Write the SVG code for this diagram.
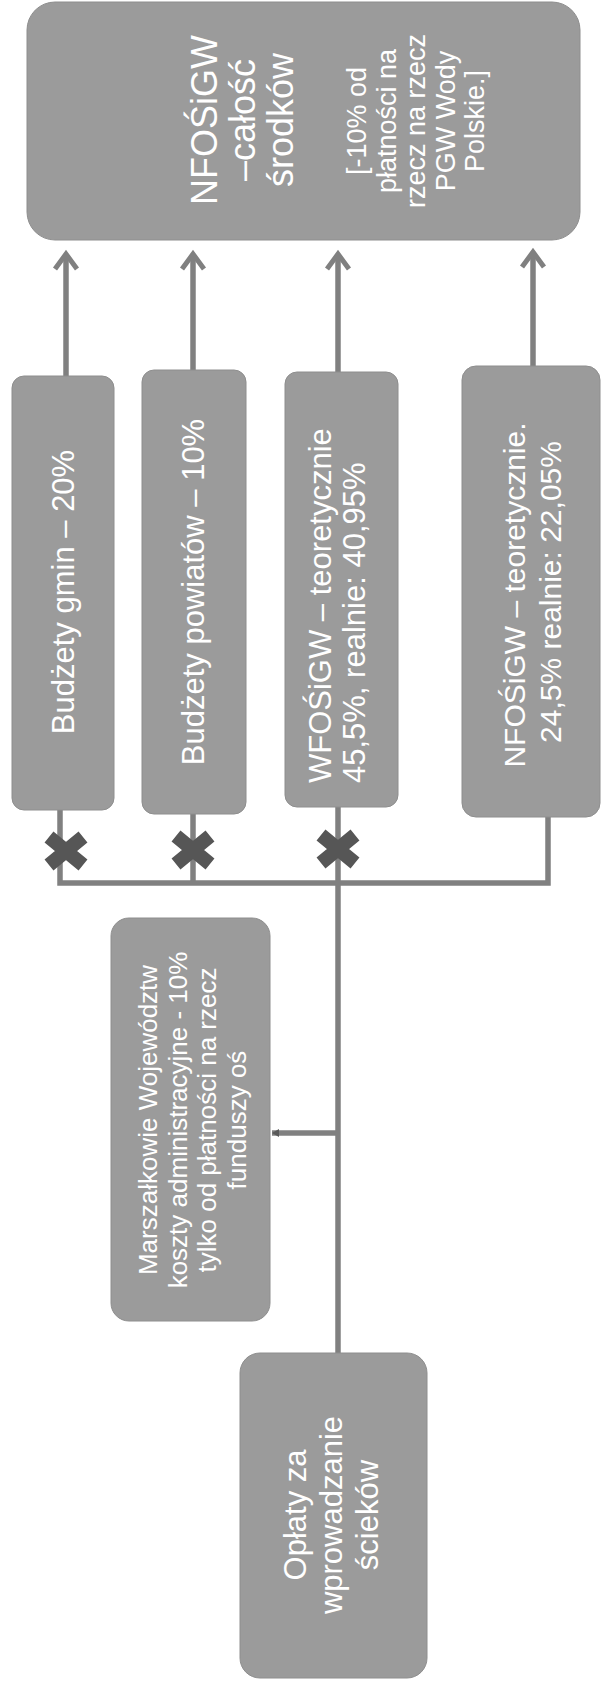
<svg xmlns="http://www.w3.org/2000/svg" width="604" height="1686" viewBox="0 0 604 1686">
<defs>
<style>
.box{fill:#9b9b9b;stroke:#8e8e8e;stroke-width:1}
.t{font-family:"Liberation Sans",Arial,sans-serif;fill:#ffffff}
.ln{stroke:#808080;stroke-width:5.5;fill:none}
.xm{stroke:#565656;stroke-width:14;fill:none}
</style>
<marker id="chev" markerUnits="userSpaceOnUse" markerWidth="40" markerHeight="40" refX="0" refY="0" orient="auto" overflow="visible">
<path d="M-15,-11 L0,0 L-15,11" fill="none" stroke="#808080" stroke-width="5"/>
</marker>
<marker id="tri" markerUnits="userSpaceOnUse" markerWidth="20" markerHeight="20" refX="0" refY="0" orient="auto" overflow="visible">
<path d="M-7,-4 L0,0 L-7,4 Z" fill="#5a5a5a"/>
</marker>
<g id="xmark"><path class="xm" d="M-17,-14 L17,14 M-17,14 L17,-14"/></g>
</defs>
<rect width="604" height="1686" fill="#ffffff"/>

<g id="connectors">
<line class="ln" x1="66" y1="376" x2="66" y2="254" marker-end="url(#chev)"/>
<line class="ln" x1="193" y1="370" x2="193" y2="254" marker-end="url(#chev)"/>
<line class="ln" x1="338" y1="372" x2="338" y2="254" marker-end="url(#chev)"/>
<line class="ln" x1="533" y1="366" x2="533" y2="252" marker-end="url(#chev)"/>
<polyline class="ln" points="60,810 60,883 548,883 548,817"/>
<line class="ln" x1="193" y1="814" x2="193" y2="883"/>
<line class="ln" x1="338" y1="807" x2="338" y2="883"/>
<line class="ln" x1="338" y1="883" x2="338" y2="1353"/>
<line class="ln" x1="338" y1="1133" x2="272" y2="1133" marker-end="url(#tri)"/>
<use href="#xmark" x="66" y="851"/>
<use href="#xmark" x="193" y="850"/>
<use href="#xmark" x="338" y="849"/>
</g>

<g id="node-nfosigw-top">
<rect class="box" x="27" y="2" width="553" height="238" rx="28"/>
<g class="t" font-size="36" text-anchor="middle">
<text transform="translate(217,120) rotate(-90)">NFOŚiGW</text>
<text transform="translate(255,120) rotate(-90)">–całość</text>
<text transform="translate(293,120) rotate(-90)">środków</text>
</g>
<g class="t" font-size="27" text-anchor="middle">
<text transform="translate(366,121) rotate(-90)">[-10% od</text>
<text transform="translate(395.5,121) rotate(-90)">płatności na</text>
<text transform="translate(425,121) rotate(-90)">rzecz na rzecz</text>
<text transform="translate(454.5,121) rotate(-90)">PGW Wody</text>
<text transform="translate(484,121) rotate(-90)">Polskie.]</text>
</g>
</g>

<g id="node-gminy">
<rect class="box" x="12" y="376" width="102" height="434" rx="12"/>
<text class="t" font-size="31" text-anchor="middle" transform="translate(74,592) rotate(-90)">Budżety gmin – 20%</text>
</g>

<g id="node-powiaty">
<rect class="box" x="142" y="370" width="104" height="444" rx="12"/>
<text class="t" font-size="31" text-anchor="middle" transform="translate(204,592) rotate(-90)">Budżety powiatów – 10%</text>
</g>

<g id="node-wfosigw">
<rect class="box" x="285" y="372" width="113" height="435" rx="12"/>
<g class="t" font-size="31" text-anchor="start">
<text transform="translate(331,783) rotate(-90)">WFOŚiGW – teoretycznie</text>
<text transform="translate(365,783) rotate(-90)">45,5%, realnie: 40,95%</text>
</g>
</g>

<g id="node-nfosigw">
<rect class="box" x="462" y="366" width="138" height="451" rx="14"/>
<g class="t" font-size="30" text-anchor="middle">
<text transform="translate(525,595) rotate(-90)">NFOŚiGW – teoretycznie.</text>
<text transform="translate(561,592) rotate(-90)">24,5% realnie: 22,05%</text>
</g>
</g>

<g id="node-marszalkowie">
<rect class="box" x="111" y="918" width="159" height="403" rx="18"/>
<g class="t" font-size="26" text-anchor="middle">
<text transform="translate(157,1120) rotate(-90)">Marszałkowie Województw</text>
<text transform="translate(186.5,1120) rotate(-90)">koszty administracyjne - 10%</text>
<text transform="translate(216,1120) rotate(-90)">tylko od płatności na rzecz</text>
<text transform="translate(245.5,1120) rotate(-90)">funduszy oś</text>
</g>
</g>

<g id="node-oplaty">
<rect class="box" x="240" y="1353" width="187" height="325" rx="20"/>
<g class="t" font-size="31" text-anchor="middle">
<text transform="translate(306,1515) rotate(-90)">Opłaty za</text>
<text transform="translate(342,1515) rotate(-90)">wprowadzanie</text>
<text transform="translate(378,1515) rotate(-90)">ścieków</text>
</g>
</g>
</svg>
